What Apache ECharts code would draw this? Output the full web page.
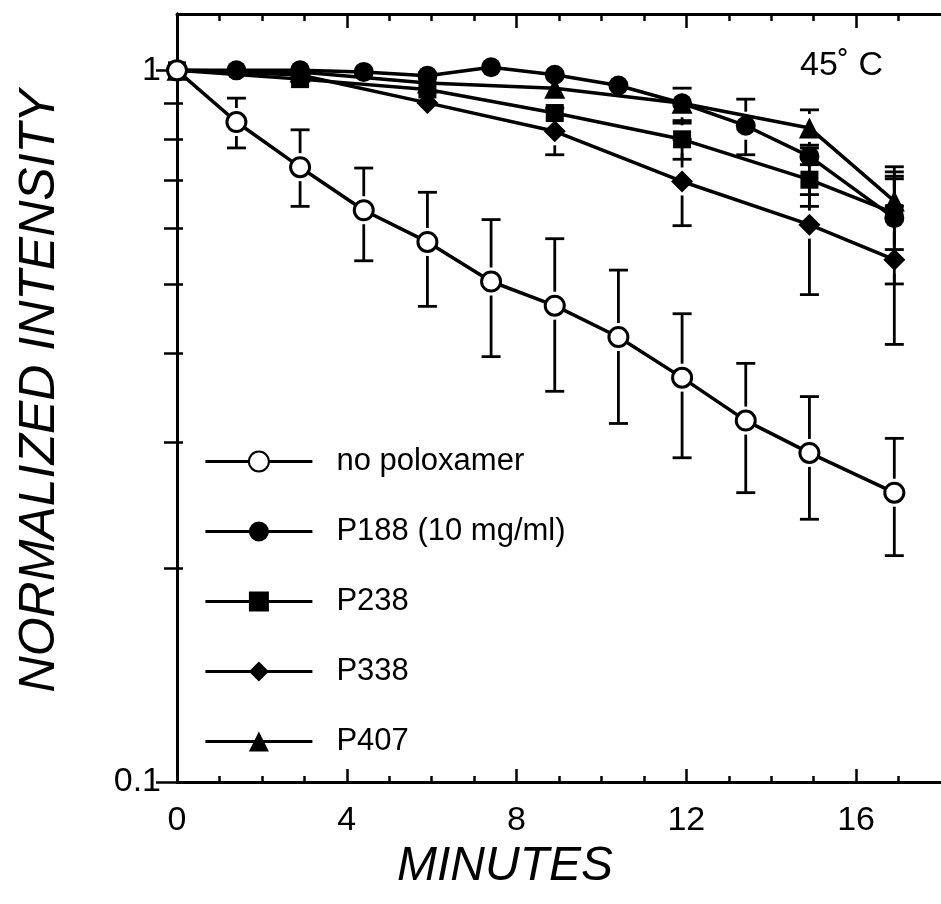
<!DOCTYPE html>
<html><head><meta charset="utf-8">
<script src="https://cdn.jsdelivr.net/npm/echarts@6/dist/echarts.min.js"></script>
<style>html,body{margin:0;padding:0;background:#fff}#c{width:941px;height:904px}</style>
</head><body><div id="c"></div><script>
// ---- data ----
const timesAll = [0, 1.4, 2.9, 4.4, 5.9, 7.4, 8.9, 10.4, 11.9, 13.4, 14.9, 16.9];
const timesSub = [0, 2.9, 5.9, 8.9, 11.9, 14.9, 16.9];

const noPolox     = [1.0, 0.846, 0.731, 0.636, 0.574, 0.505, 0.467, 0.422, 0.370, 0.322, 0.290, 0.255];
const noPoloxLow  = [null, 0.778, 0.644, 0.540, 0.466, 0.396, 0.354, 0.319, 0.2855, 0.255, 0.234, 0.208];
const noPoloxHigh = [null, 0.914, 0.825, 0.729, 0.674, 0.617, 0.580, 0.524, 0.455, 0.3875, 0.348, 0.304];

const p188     = [1.0, 1.0, 1.0, 0.995, 0.983, 1.01, 0.986, 0.952, 0.899, 0.836, 0.757, 0.62];
const p188Low  = [null, null, null, null, null, null, null, null, null, 0.761, 0.644, 0.501];
const p188High = [null, null, null, null, null, null, null, null, null, 0.911, 0.778, 0.72];

const p238     = [1.0, 0.972, 0.94, 0.871, 0.80, 0.702, 0.63];
const p238Low  = [null, null, null, null, 0.75, 0.669, 0.56];
const p238High = [null, null, null, null, 0.85, 0.737, 0.704];

const p338     = [1.0, 0.985, 0.90, 0.821, 0.698, 0.607, 0.542];
const p338Low  = [null, null, null, 0.761, 0.605, 0.484, 0.412];
const p338High = [null, null, null, 0.885, 0.80, 0.76, 0.71];

const p407     = [1.0, 0.995, 0.96, 0.944, 0.899, 0.83, 0.655];
const p407Low  = [null, null, null, null, 0.843, 0.785, 0.644];
const p407High = [null, null, null, null, 0.944, 0.880, 0.732];

const seriesNames = ['no poloxamer', 'P188 (10 mg/ml)', 'P238', 'P338', 'P407'];
const xLabelTicks = [0, 4, 8, 12, 16];
const xMinorTicks = [1, 2, 3, 5, 6, 7, 9, 10, 11, 13, 14, 15, 17];
const yLabelTicks = [0.1, 1];
const yMinorTicks = [0.2, 0.3, 0.4, 0.5, 0.6, 0.7, 0.8, 0.9];
const xTitle = 'MINUTES';
const yTitle = 'NORMALIZED INTENSITY';
const tempLabel = '45\u02DA C';

// ---- build ----
const FONT = '"Liberation Sans", Arial, Helvetica, sans-serif';
const BLACK = '#000';
const zip = (xs, ys) => xs.map((x, i) => [x, ys[i]]);
function errData(xs, mid, lo, hi) {
  const out = [];
  xs.forEach((x, i) => { if (lo[i] != null && hi[i] != null) out.push([x, lo[i], hi[i], mid[i]]); });
  return out;
}
function renderErr(params, api) {
  const x = api.value(0), lo = api.value(1), hi = api.value(2), mid = api.value(3);
  const pl = api.coord([x, lo]), ph = api.coord([x, hi]), pm = api.coord([x, mid]);
  const gap = 14, cw = 9.5;
  const style = { stroke: BLACK, lineWidth: 2.8 };
  const ch = [];
  if (ph[1] < pm[1] - gap) ch.push({ type: 'line', shape: { x1: ph[0], y1: ph[1], x2: pm[0], y2: pm[1] - gap }, style });
  if (pl[1] > pm[1] + gap) ch.push({ type: 'line', shape: { x1: pm[0], y1: pm[1] + gap, x2: pl[0], y2: pl[1] }, style });
  ch.push({ type: 'line', shape: { x1: ph[0] - cw, y1: ph[1], x2: ph[0] + cw, y2: ph[1] }, style });
  ch.push({ type: 'line', shape: { x1: pl[0] - cw, y1: pl[1], x2: pl[0] + cw, y2: pl[1] }, style });
  return { type: 'group', children: ch };
}
function errSeries(data) {
  return { type: 'custom', renderItem: renderErr, data, xAxisIndex: 0, yAxisIndex: 0,
    encode: { x: 0, y: [1, 2] }, z: 1, silent: true };
}
function lineSeries(name, data, symbol, size, fill) {
  return { name, type: 'line', data, symbol, symbolSize: size, xAxisIndex: 0, yAxisIndex: 0,
    lineStyle: { color: BLACK, width: 3.5 },
    itemStyle: { color: fill, borderColor: BLACK, borderWidth: fill === '#fff' ? 3 : 0, opacity: 1 },
    z: 3, silent: true };
}

const xBase = { type: 'value', min: 0, max: 18, gridIndex: 0, splitLine: { show: false } };
const yBase = { type: 'log', logBase: 10, min: 0.1, max: 1.2, gridIndex: 0, splitLine: { show: false } };
const lineAx = { show: true, lineStyle: { color: BLACK, width: 3 } };

const option = {
  animation: false,
  backgroundColor: '#fff',
  title: { text: tempLabel, left: 795, top: 44,
    textStyle: { fontFamily: FONT, fontSize: 34, fontWeight: 'normal', color: BLACK } },
  grid: { left: 177, top: 14, width: 774, height: 768, containLabel: false },
  legend: {
    data: seriesNames, orient: 'vertical', left: 199, top: 441,
    itemWidth: 107, itemHeight: 25, itemGap: 39,
    lineStyle: { color: BLACK, width: 2.8 },
    textStyle: { fontFamily: FONT, fontSize: 31, color: BLACK, padding: [0, 0, 0, 19] },
    selectedMode: false
  },
  xAxis: [
    Object.assign({}, xBase, { position: 'bottom', axisLine: lineAx,
      axisTick: { show: true, inside: true, length: 13, customValues: xLabelTicks, lineStyle: { color: BLACK, width: 2.5 } },
      axisLabel: { customValues: xLabelTicks, margin: 22, fontFamily: FONT, fontSize: 34, color: BLACK },
      name: xTitle, nameLocation: 'middle', nameGap: 56,
      nameTextStyle: { fontFamily: FONT, fontSize: 48, fontStyle: 'italic', color: BLACK, padding: [0, 108, 0, 0] } }),
    Object.assign({}, xBase, { position: 'bottom', axisLine: { show: false },
      axisTick: { show: true, inside: true, length: 6, customValues: xMinorTicks, lineStyle: { color: BLACK, width: 2.5 } },
      axisLabel: { show: false } }),
    Object.assign({}, xBase, { position: 'top', axisLine: lineAx,
      axisTick: { show: true, inside: true, length: 14, customValues: [4, 8, 12, 16], lineStyle: { color: BLACK, width: 2.5 } },
      axisLabel: { show: false } }),
    Object.assign({}, xBase, { position: 'top', axisLine: { show: false },
      axisTick: { show: true, inside: true, length: 7, customValues: xMinorTicks, lineStyle: { color: BLACK, width: 2.5 } },
      axisLabel: { show: false } })
  ],
  yAxis: [
    Object.assign({}, yBase, { position: 'left', axisLine: lineAx,
      axisTick: { show: true, inside: false, length: -10, customValues: yLabelTicks, lineStyle: { color: BLACK, width: 2.5 } },
      axisLabel: { customValues: yLabelTicks, margin: 16, fontFamily: FONT, fontSize: 34, color: BLACK },
      name: yTitle, nameLocation: 'middle', nameRotate: 90, nameGap: 112,
      nameTextStyle: { fontFamily: FONT, fontSize: 50, fontStyle: 'italic', color: BLACK, padding: [0, 0, 0, 14] } }),
    Object.assign({}, yBase, { position: 'left', axisLine: { show: false },
      axisTick: { show: true, inside: false, length: -6, customValues: yMinorTicks, lineStyle: { color: BLACK, width: 2.5 } },
      axisLabel: { show: false } }),
    Object.assign({}, yBase, { position: 'right', axisLine: lineAx,
      axisTick: { show: true, inside: false, length: -21, customValues: yLabelTicks, lineStyle: { color: BLACK, width: 2.5 } },
      axisLabel: { show: false } }),
    Object.assign({}, yBase, { position: 'right', axisLine: { show: false },
      axisTick: { show: true, inside: false, length: -13, customValues: yMinorTicks, lineStyle: { color: BLACK, width: 2.5 } },
      axisLabel: { show: false } })
  ],
  series: [
    errSeries(errData(timesAll, noPolox, noPoloxLow, noPoloxHigh)),
    errSeries(errData(timesAll, p188, p188Low, p188High)),
    errSeries(errData(timesSub, p238, p238Low, p238High)),
    errSeries(errData(timesSub, p338, p338Low, p338High)),
    errSeries(errData(timesSub, p407, p407Low, p407High)),
    lineSeries(seriesNames[1], zip(timesAll, p188), 'circle', 20, BLACK),
    lineSeries(seriesNames[2], zip(timesSub, p238), 'rect', 18, BLACK),
    lineSeries(seriesNames[3], zip(timesSub, p338), 'diamond', 22, BLACK),
    lineSeries(seriesNames[4], zip(timesSub, p407), 'triangle', 21, BLACK),
    lineSeries(seriesNames[0], zip(timesAll, noPolox), 'circle', 19, '#fff')
  ]
};
const chart = echarts.init(document.getElementById('c'), null, { renderer: 'canvas' });
chart.setOption(option);
</script></body></html>
